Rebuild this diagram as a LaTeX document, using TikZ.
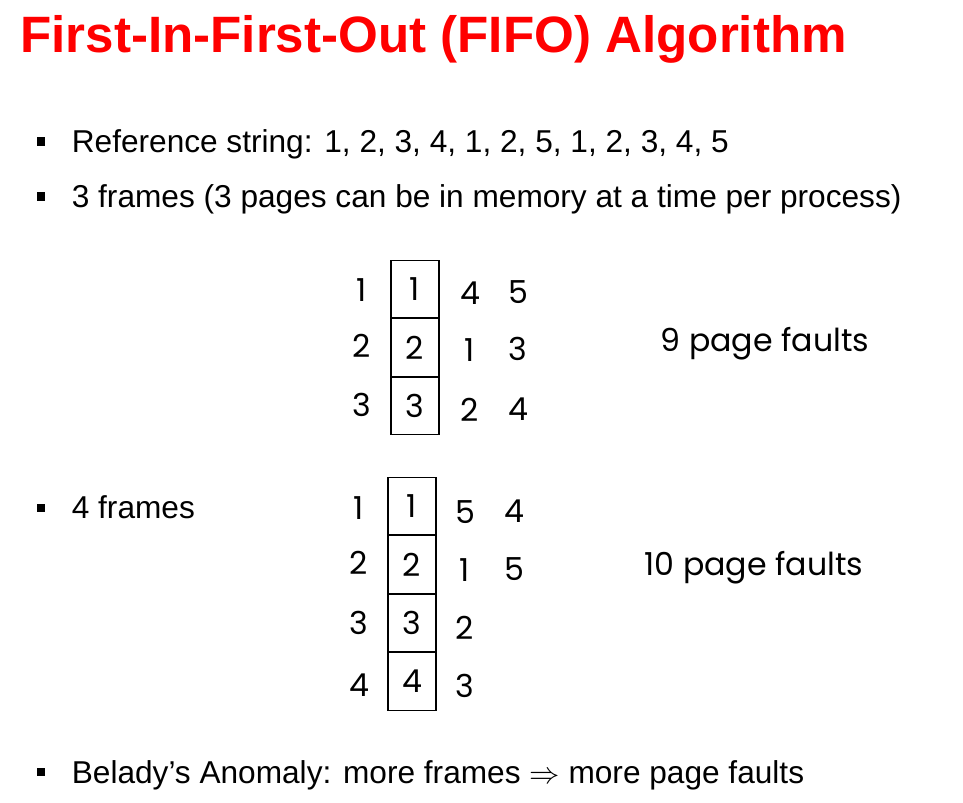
\documentclass[tikz,border=0pt]{standalone}
\usepackage{fontspec}
\setmainfont{Liberation Sans}
\newfontfamily\handfont{Poppins}
\usetikzlibrary{chains,
                positioning}

\begin{document}
\begin{tikzpicture}[
            x = 0.02cm, y = -0.02cm,
            node distance = 0mm,
            heading/.style = {anchor=base west, inner sep=0pt, text=red,
                    font=\fontsize{29.1}{34}\selectfont\bfseries},
            item/.style = {anchor=base west, inner sep=0pt,
                    font=\fontsize{18}{22}\selectfont},
            dot/.style = {fill=black, minimum size=0.17cm, inner sep=0pt},
            slot/.style = {draw, line width=0.6pt, minimum width=0.96cm,
                    minimum height=1.15cm, inner sep=0pt, on chain,
                    font=\handfont\fontsize{18}{22}\selectfont},
            digit/.style = {inner sep=0pt,
                    font=\handfont\fontsize{18}{22}\selectfont},
            faults/.style = {digit, anchor=base}]
        \useasboundingbox (0,0) rectangle (963,803);

        \node [heading] (title) at (20,53) {First-In-First-Out (FIFO) Algorithm};

        \node [dot] (d1) at (41,141.7) {};
        \node [item] (ref) at (71.5,152.7) {Reference string: 1, 2, 3, 4, 1, 2, 5, 1, 2, 3, 4, 5};
        \node [dot] (d2) at (41,196.5) {};
        \node [item] (three) at (71.5,207.7) {3 frames (3 pages can be in memory at a time per process)};
        \node [dot] (d3) at (41,508) {};
        \node [item] (four) at (71.5,519) {4 frames};
        \node [dot] (d4) at (41,772) {};
        \node [item] (belady) at (71.5,783) {Belady’s Anomaly: more frames $\Rightarrow$ more page faults};

        % 3 frames
        \begin{scope}[start chain = A going below]
        \node [slot] at (415,289) {1}; % A-1
        \node [slot]              {2}; % A-2
        \node [slot]              {3}; % A-3
        \end{scope}
        \node [digit] (a1) at (362,290) {1};
        \node [digit] (a2) at (362,346) {2};
        \node [digit] (a3) at (362,405) {3};
        \node [digit] (a4) at (470,293) {4};
        \node [digit] (a5) at (470,350) {1};
        \node [digit] (a6) at (470,410) {2};
        \node [digit] (a7) at (518,292) {5};
        \node [digit] (a8) at (518,349) {3};
        \node [digit] (a9) at (518,409) {4};
        \node [faults] (pfA) at (765,351.7) {9 page faults};

        % 4 frames
        \begin{scope}[start chain = B going below]
        \node [slot] at (412,506) {1}; % B-1
        \node [slot]              {2}; % B-2
        \node [slot]              {3}; % B-3
        \node [slot]              {4}; % B-4
        \end{scope}
        \node [digit] (b1) at (359,508) {1};
        \node [digit] (b2) at (359,563) {2};
        \node [digit] (b3) at (359,623) {3};
        \node [digit] (b4) at (359,685) {4};
        \node [digit] (b5) at (465,512) {5};
        \node [digit] (b6) at (465,570) {1};
        \node [digit] (b7) at (465,628) {2};
        \node [digit] (b8) at (465,686) {3};
        \node [digit] (b9) at (514,511) {4};
        \node [digit] (b10) at (514,569) {5};
        \node [faults] (pfB) at (754,575) {10 page faults};
    \end{tikzpicture}
\end{document}
